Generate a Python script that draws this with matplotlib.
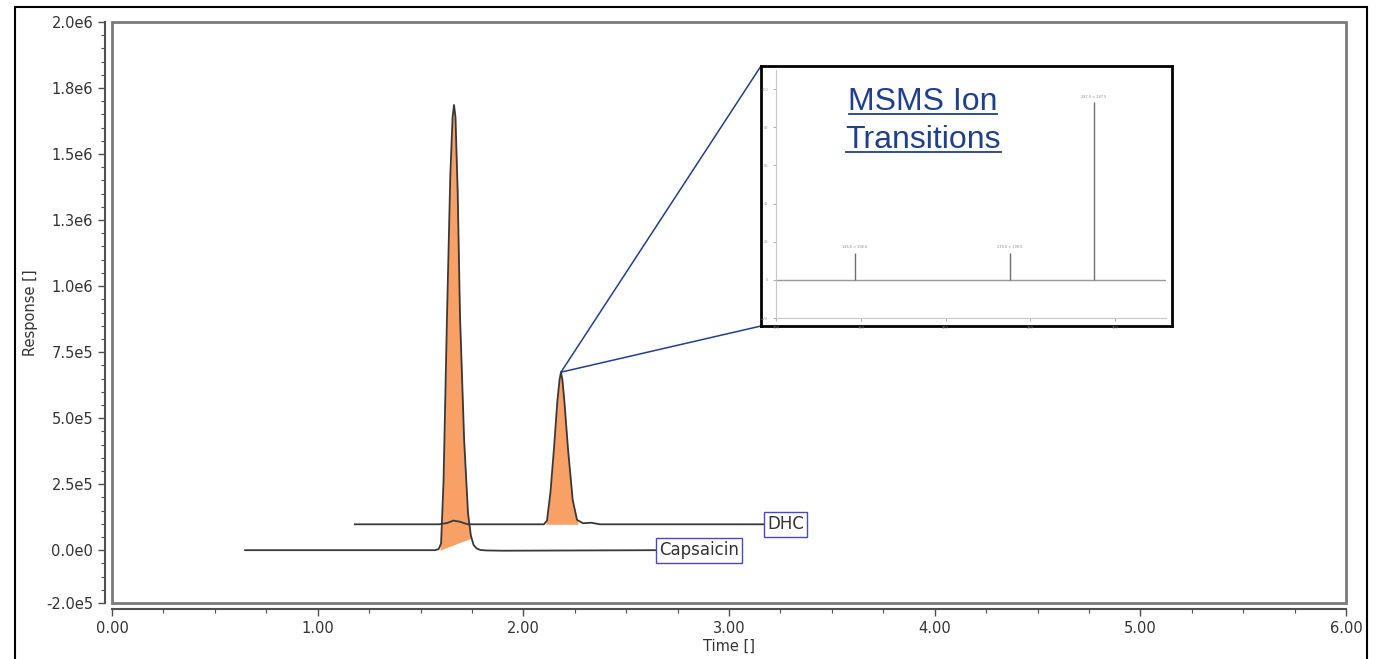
import matplotlib
matplotlib.use("Agg")
import numpy as np
import matplotlib.pyplot as plt
from matplotlib.patches import Rectangle, ConnectionPatch
from matplotlib.ticker import FixedLocator, MultipleLocator

# --- chromatogram traces (time in min, response in counts) ---
caps_time = [0.647, 1.570, 1.588, 1.600, 1.612, 1.629, 1.645, 1.656, 1.663,
             1.670, 1.681, 1.692, 1.712, 1.731, 1.745, 1.758, 1.772, 1.790,
             1.820, 1.900, 2.650]
caps_resp = [0, 0, 4e3, 2.5e4, 2.6e5, 8.9e5, 1.42e6, 1.64e6, 1.686e6,
             1.64e6, 1.35e6, 8.9e5, 4.2e5, 1.4e5, 5.5e4, 2.0e4, 7e3, 1e3,
             -1e3, -2e3, 0]

dhc_time = [1.181, 1.590, 1.630, 1.660, 1.690, 1.730, 2.100, 2.115, 2.132,
            2.149, 2.165, 2.176, 2.183, 2.190, 2.201, 2.217, 2.240, 2.261,
            2.290, 2.330, 2.372, 3.175]
dhc_resp = [9.8e4, 9.8e4, 1.03e5, 1.12e5, 1.08e5, 9.8e4, 9.8e4, 1.12e5,
            2.20e5, 3.85e5, 5.60e5, 6.45e5, 6.74e5, 6.45e5, 5.50e5, 3.85e5,
            1.90e5, 1.15e5, 1.02e5, 1.04e5, 9.8e4, 9.8e4]

# integration windows and their baselines (start, end)
caps_window = (1.595, 1.745)
caps_base = (0, 4.5e4)
dhc_window = (2.110, 2.265)
dhc_base = (9.8e4, 9.8e4)

ytick_vals = [2.0e6, 1.75e6, 1.5e6, 1.25e6, 1.0e6, 7.5e5, 5.0e5, 2.5e5, 0, -2.0e5]
ytick_labels = ["2.0e6", "1.8e6", "1.5e6", "1.3e6", "1.0e6", "7.5e5",
                "5.0e5", "2.5e5", "0.0e0", "-2.0e5"]
xtick_vals = [0, 1, 2, 3, 4, 5, 6]

# --- inset MS/MS spectrum (relative positions / intensities) ---
ms_mz = [146.6, 238.0, 287.5]
ms_int = [14.0, 14.0, 93.0]

fill_color = "#F9A066"
frame_gray = "#7a7a7a"
link_blue = "#1F3F8F"

plt.rcParams["font.family"] = ["DejaVu Sans"]

fig = plt.figure(figsize=(13.78, 6.59), dpi=100)
ax = fig.add_axes([112 / 1378, 1 - 603 / 659, 1234 / 1378, 581 / 659])


def fill_peak(t, r, window, base):
    ts = [x for x in t if window[0] < x < window[1]]
    rs = [y for x, y in zip(t, r) if window[0] < x < window[1]]
    ts = [window[0]] + ts + [window[1]]
    rs = [float(np.interp(window[0], t, r))] + rs + [float(np.interp(window[1], t, r))]
    bl = [base[0] + (base[1] - base[0]) * (x - window[0]) / (window[1] - window[0]) for x in ts]
    ax.fill_between(ts, bl, rs, color=fill_color, lw=0, zorder=1)


fill_peak(caps_time, caps_resp, caps_window, caps_base)
fill_peak(dhc_time, dhc_resp, dhc_window, dhc_base)
ax.plot(caps_time, caps_resp, color="#383838", lw=1.3, zorder=2)
ax.plot(dhc_time, dhc_resp, color="#383838", lw=1.3, zorder=2)

label_box = dict(boxstyle="square,pad=0.2", fc="white", ec="#4848CC", lw=1)
ax.text(caps_time[-1] + 0.01, caps_resp[-1], "Capsaicin", ha="left", va="center",
        fontsize=12, color="#333333", bbox=label_box, zorder=3)
ax.text(dhc_time[-1] + 0.01, dhc_resp[-1], "DHC", ha="left", va="center",
        fontsize=12, color="#333333", bbox=label_box, zorder=3)

ax.set_xlim(0, 6)
ax.set_ylim(-2.0e5, 2.0e6)
ax.xaxis.set_major_locator(FixedLocator(xtick_vals))
ax.set_xticklabels([f"{v:.2f}" for v in xtick_vals])
ax.xaxis.set_minor_locator(MultipleLocator(0.25))
ax.yaxis.set_major_locator(FixedLocator(ytick_vals))
ax.set_yticklabels(ytick_labels)
ax.yaxis.set_minor_locator(MultipleLocator(5e4))
ax.tick_params(which="major", length=5, width=1, color="#505050",
               labelsize=10.5, labelcolor="#333333")
ax.tick_params(which="minor", length=3, width=0.8, color="#505050")

for side in ["top", "right"]:
    ax.spines[side].set_visible(False)
ax.spines["left"].set_position(("outward", 5))
ax.spines["bottom"].set_position(("outward", 4.5))
for side in ["left", "bottom"]:
    ax.spines[side].set_color("#505050")
    ax.spines[side].set_linewidth(1.5)
ax.add_patch(Rectangle((0, 0), 1, 1, transform=ax.transAxes, fill=False,
                       ec=frame_gray, lw=2, clip_on=False, zorder=4))

ax.set_xlabel("Time []", fontsize=10.5, color="#333333", labelpad=2)
ax.set_ylabel("Response []", fontsize=10.5, color="#333333", labelpad=6)

# --- inset ---
ins = fig.add_axes([761 / 1378, 1 - 326 / 659, 411 / 1378, 260 / 659])
ins.set_xticks([])
ins.set_yticks([])
for s in ins.spines.values():
    s.set_color("black")
    s.set_linewidth(2)
ins.set_zorder(5)

spec = fig.add_axes([776 / 1378, 1 - 318 / 659, 390 / 1378, 248 / 659])
spec.set_zorder(6)
spec.patch.set_alpha(0)
spec.set_xlim(100, 330)
spec.set_ylim(-20, 110)
spec.axhline(0, color="#9a9a9a", lw=1)
spec.vlines(ms_mz, 0, ms_int, color="#707070", lw=1)
for mz, it in zip(ms_mz, ms_int):
    spec.text(mz, it + 2, f"{mz:.1f} > {mz - 40:.1f}", fontsize=2.5,
              ha="center", va="bottom", color="#888888")
for s in spec.spines.values():
    s.set_color("#c8c8c8")
    s.set_linewidth(0.8)
spec.spines["top"].set_visible(False)
spec.spines["right"].set_visible(False)
spec.tick_params(labelsize=2.5, length=2, color="#b0b0b0", labelcolor="#999999")

fig.text(923 / 1378, 1 - 110 / 659, "MSMS Ion", fontsize=23, color=link_blue,
         ha="center", va="baseline", family="Liberation Sans", zorder=10)
fig.text(923 / 1378, 1 - 148 / 659, "Transitions", fontsize=23, color=link_blue,
         ha="center", va="baseline", family="Liberation Sans", zorder=10)
fig.add_artist(plt.Line2D([849 / 1378, 997 / 1378], [1 - 114 / 659] * 2,
                          color=link_blue, lw=1.3, zorder=10))
fig.add_artist(plt.Line2D([846 / 1378, 1001 / 1378], [1 - 152 / 659] * 2,
                          color=link_blue, lw=1.3, zorder=10))

# connector lines from DHC apex to inset corners
apex = (dhc_time[12], dhc_resp[12])
for corner in [(761 / 1378, 1 - 66 / 659), (761 / 1378, 1 - 326 / 659)]:
    con = ConnectionPatch(xyA=apex, coordsA=ax.transData, xyB=corner,
                          coordsB=fig.transFigure, color=link_blue, lw=1.1)
    fig.add_artist(con)

# outer border
fig.add_artist(Rectangle((15 / 1378, -0.02), 1352 / 1378, 1.02 - 7 / 659,
                         transform=fig.transFigure, fill=False, ec="black", lw=1.5))

fig.savefig("out.png", dpi=100, facecolor="white")
